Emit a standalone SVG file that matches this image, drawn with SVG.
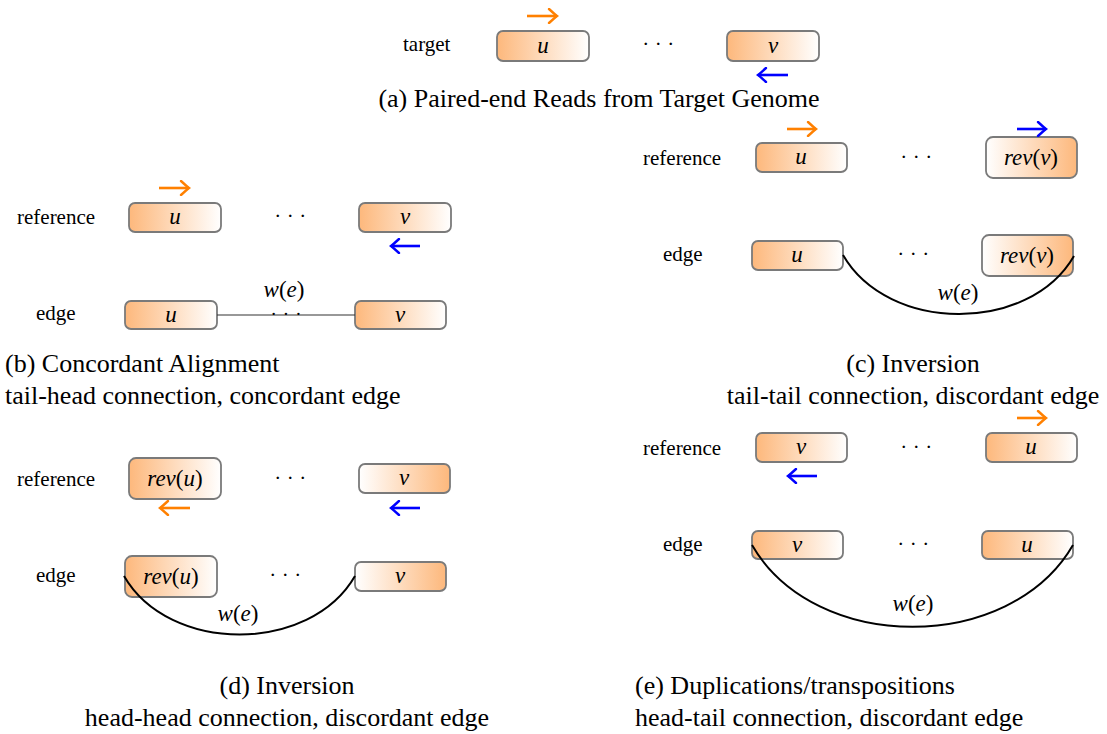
<svg xmlns="http://www.w3.org/2000/svg" width="1107" height="734" viewBox="0 0 1107 734">
  <style>
    .lbl { font-family: "Liberation Serif", "Times New Roman", serif; font-size: 21px; fill: #000; }
    .cap { font-family: "Liberation Serif", "Times New Roman", serif; font-size: 26px; fill: #000; }
    .math { font-family: "Liberation Serif", "Times New Roman", serif; font-size: 23px; font-style: italic; fill: #000; text-anchor: middle; }
    .up { font-style: normal; }
    .dots { font-family: "Liberation Serif", "Times New Roman", serif; font-size: 21px; letter-spacing: 5.5px; fill: #000; text-anchor: middle; }
    .dots-sm { font-size: 19px; letter-spacing: 6px; }
    .box { stroke: #7a7a7a; stroke-width: 1.8; }
    .lr { fill: url(#gLR); }
    .rl { fill: url(#gRL); }
    .orange { stroke: #ff8000; stroke-width: 2.6; fill: none; }
    .blue { stroke: #0000ff; stroke-width: 2.6; fill: none; }
    .edge { stroke: #000; stroke-width: 2; fill: none; }
    .thin { stroke: #333; stroke-width: 1.2; fill: none; }
  </style>
  <defs>
    <linearGradient id="gLR" x1="0" y1="0" x2="1" y2="0">
      <stop offset="0" stop-color="#fdb87c"/>
      <stop offset="1" stop-color="#ffffff"/>
    </linearGradient>
    <linearGradient id="gRL" x1="0" y1="0" x2="1" y2="0">
      <stop offset="0" stop-color="#ffffff"/>
      <stop offset="1" stop-color="#fdb87c"/>
    </linearGradient>
    <!-- curved "to"-style arrow tips -->
    <marker id="tipO" viewBox="-10 -8 12 16" refX="0" refY="0" markerWidth="12" markerHeight="16" markerUnits="userSpaceOnUse" orient="auto">
      <path d="M-8,-7 Q-2,-1.5 0,0 Q-2,1.5 -8,7" fill="none" stroke="#ff8000" stroke-width="2.4" stroke-linecap="round"/>
    </marker>
    <marker id="tipB" viewBox="-10 -8 12 16" refX="0" refY="0" markerWidth="12" markerHeight="16" markerUnits="userSpaceOnUse" orient="auto">
      <path d="M-8,-7 Q-2,-1.5 0,0 Q-2,1.5 -8,7" fill="none" stroke="#0000ff" stroke-width="2.4" stroke-linecap="round"/>
    </marker>
  </defs>

  <!-- (a) target -->
  <g id="panel-a">
    <text class="lbl" x="403" y="51">target</text>
    <g id="a-u"><rect class="box lr" x="497" y="31" width="92" height="30" rx="6"/><text class="math" x="543" y="53">u</text></g>
    <text class="dots" x="661" y="51">···</text>
    <g id="a-v"><rect class="box lr" x="727" y="31" width="92" height="30" rx="6"/><text class="math" x="773" y="53">v</text></g>
    <text class="cap" x="599" y="107" text-anchor="middle">(a) Paired-end Reads from Target Genome</text>
  </g>

  <!-- (b) concordant -->
  <g id="panel-b">
    <text class="lbl" x="17" y="224">reference</text>
    <g id="b-ref-u"><rect class="box lr" x="129" y="203" width="92" height="29" rx="6"/><text class="math" x="175" y="224">u</text></g>
    <text class="dots" x="293" y="223">···</text>
    <g id="b-ref-v"><rect class="box lr" x="359" y="203" width="92" height="29" rx="6"/><text class="math" x="405" y="224">v</text></g>
    <text class="lbl" x="36" y="320">edge</text>
    <g id="b-edge-u"><rect class="box lr" x="125" y="301" width="92" height="28" rx="6"/><text class="math" x="171" y="322">u</text></g>
    <g id="b-edge-v"><rect class="box lr" x="355" y="301" width="91" height="28" rx="6"/><text class="math" x="400" y="322">v</text></g>
    <text class="cap" x="5" y="372">(b) Concordant Alignment</text>
    <text class="cap" x="5" y="404">tail-head connection, concordant edge</text>
  </g>

  <!-- (c) inversion, tail-tail -->
  <g id="panel-c">
    <text class="lbl" x="643" y="165">reference</text>
    <g id="c-ref-u"><rect class="box lr" x="756" y="143" width="91" height="29" rx="6"/><text class="math" x="801" y="164">u</text></g>
    <text class="dots" x="919" y="164">···</text>
    <g id="c-ref-v"><rect class="box rl" x="986" y="137" width="91" height="41" rx="7"/><text class="math" x="1031" y="165">rev<tspan class="up">(</tspan>v<tspan class="up">)</tspan></text></g>
    <text class="lbl" x="663" y="261">edge</text>
    <g id="c-edge-u"><rect class="box lr" x="752" y="241" width="91" height="29" rx="6"/><text class="math" x="797" y="262">u</text></g>
    <text class="dots" x="916" y="261">···</text>
    <g id="c-edge-v"><rect class="box rl" x="982" y="235" width="91" height="41" rx="7"/><text class="math" x="1027" y="263">rev<tspan class="up">(</tspan>v<tspan class="up">)</tspan></text></g>
    <text class="cap" x="913" y="372" text-anchor="middle">(c) Inversion</text>
    <text class="cap" x="913" y="404" text-anchor="middle">tail-tail connection, discordant edge</text>
  </g>

  <!-- (d) inversion, head-head -->
  <g id="panel-d">
    <text class="lbl" x="17" y="486">reference</text>
    <g id="d-ref-u"><rect class="box lr" x="129" y="458" width="92" height="41" rx="7"/><text class="math" x="175" y="486">rev<tspan class="up">(</tspan>u<tspan class="up">)</tspan></text></g>
    <text class="dots" x="293" y="485">···</text>
    <g id="d-ref-v"><rect class="box rl" x="359" y="464" width="91" height="29" rx="6"/><text class="math" x="404" y="485">v</text></g>
    <text class="lbl" x="36" y="582">edge</text>
    <g id="d-edge-u"><rect class="box lr" x="125" y="556" width="92" height="41" rx="7"/><text class="math" x="171" y="584">rev<tspan class="up">(</tspan>u<tspan class="up">)</tspan></text></g>
    <text class="dots" x="288" y="582">···</text>
    <g id="d-edge-v"><rect class="box rl" x="355" y="562" width="91" height="29" rx="6"/><text class="math" x="400" y="583">v</text></g>
    <text class="cap" x="287" y="694" text-anchor="middle">(d) Inversion</text>
    <text class="cap" x="287" y="726" text-anchor="middle">head-head connection, discordant edge</text>
  </g>

  <!-- (e) duplications / transpositions -->
  <g id="panel-e">
    <text class="lbl" x="643" y="455">reference</text>
    <g id="e-ref-v"><rect class="box lr" x="756" y="433" width="91" height="29" rx="6"/><text class="math" x="801" y="454">v</text></g>
    <text class="dots" x="919" y="454">···</text>
    <g id="e-ref-u"><rect class="box lr" x="986" y="433" width="91" height="29" rx="6"/><text class="math" x="1031" y="454">u</text></g>
    <text class="lbl" x="663" y="551">edge</text>
    <g id="e-edge-v"><rect class="box lr" x="752" y="531" width="91" height="28" rx="6"/><text class="math" x="797" y="552">v</text></g>
    <text class="dots" x="916" y="551">···</text>
    <g id="e-edge-u"><rect class="box lr" x="982" y="531" width="91" height="28" rx="6"/><text class="math" x="1027" y="552">u</text></g>
    <text class="cap" x="635" y="694">(e) Duplications/transpositions</text>
    <text class="cap" x="635" y="726">head-tail connection, discordant edge</text>
  </g>

  <!-- read orientation arrows -->
  <g id="read-arrows">
    <path class="orange" d="M527,16 H557" marker-end="url(#tipO)"/>
    <path class="blue" d="M788,75 H758" marker-end="url(#tipB)"/>
    <path class="orange" d="M159,188 H189" marker-end="url(#tipO)"/>
    <path class="blue" d="M420,246 H391" marker-end="url(#tipB)"/>
    <path class="orange" d="M787,129 H816" marker-end="url(#tipO)"/>
    <path class="blue" d="M1017,129 H1046" marker-end="url(#tipB)"/>
    <path class="orange" d="M190,508 H160" marker-end="url(#tipO)"/>
    <path class="blue" d="M420,508 H391" marker-end="url(#tipB)"/>
    <path class="orange" d="M1017,418 H1046" marker-end="url(#tipO)"/>
    <path class="blue" d="M817,476 H788" marker-end="url(#tipB)"/>
  </g>

  <!-- weighted edges between reads -->
  <g id="connectors">
    <path class="thin" d="M217,315 H355"/>
    <text class="dots dots-sm" x="289" y="320">···</text>
    <text class="math" x="284" y="297">w<tspan class="up">(</tspan>e<tspan class="up">)</tspan></text>

    <path class="edge" d="M843,255 C888,333 1029,334 1074,256"/>
    <text class="math" x="958" y="300">w<tspan class="up">(</tspan>e<tspan class="up">)</tspan></text>

    <path class="edge" d="M124,576 C169,654 310,654 355,576"/>
    <text class="math" x="238" y="621">w<tspan class="up">(</tspan>e<tspan class="up">)</tspan></text>

    <path class="edge" d="M752,545 C815,654 1010,654 1073,545"/>
    <text class="math" x="913" y="611">w<tspan class="up">(</tspan>e<tspan class="up">)</tspan></text>
  </g>
</svg>
